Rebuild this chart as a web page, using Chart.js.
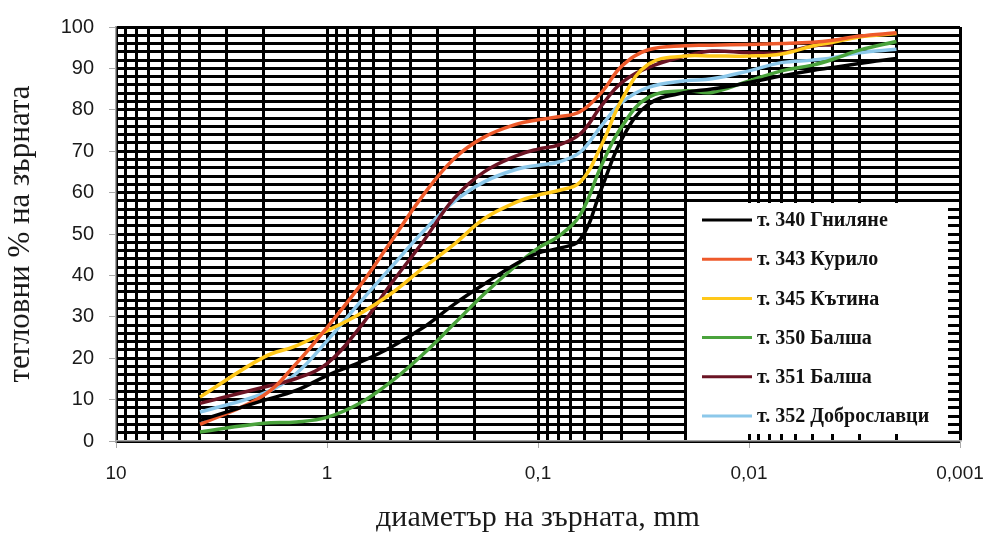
<!DOCTYPE html>
<html>
<head>
<meta charset="utf-8">
<script src="https://cdn.jsdelivr.net/npm/chart.js@4.4.1/dist/chart.umd.min.js"></script>
<style>
  html, body { margin: 0; padding: 0; background: #fff; }
  #wrap { width: 990px; height: 536px; }
</style>
</head>
<body>
<div id="wrap"><canvas id="grainChart" width="990" height="536"></canvas></div>
<script>
// sieve / hydrometer diameters, mm
const diameters = [4, 2, 1.4, 1, 0.7, 0.5, 0.35, 0.25, 0.18, 0.125, 0.1, 0.08, 0.063, 0.05, 0.04, 0.03, 0.02, 0.015, 0.01, 0.007, 0.005, 0.004, 0.003, 0.002];

const gnilyane340 = [5, 9.8, 12.2, 15.8, 19, 22.6, 27.4, 33, 37.9, 43, 45.4, 46.5, 48.7, 61, 73, 81.3, 84.2, 85, 86.6, 88.2, 89.5, 90.2, 91.2, 92.4];
const kurilo343 = [4, 11, 18.7, 27.4, 37.4, 48, 59.4, 68.2, 73.4, 76.6, 77.6, 78.3, 79.6, 84.2, 90.6, 94.5, 95.5, 95.6, 95.8, 96, 96.3, 96.8, 97.8, 98.6];
const katina345 = [10.6, 20.2, 23, 26.6, 30.7, 35.5, 41.8, 47.5, 53.7, 57.8, 59.4, 60.5, 62.6, 71.5, 82.5, 91, 93, 93, 93, 93.5, 95.4, 96.3, 97.6, 98.4];
const balsha350 = [2.2, 4.3, 4.6, 5.7, 9.1, 14.2, 21, 28.3, 35.5, 42.7, 46.6, 49.4, 54.7, 66.6, 76, 83, 84.6, 84.2, 87, 89.4, 90.8, 92.2, 94.4, 96.5];
const balsha351 = [9.1, 13, 15.1, 18.7, 27.4, 37.8, 48.2, 58.6, 65, 69, 70.5, 71.5, 74.2, 81, 86.6, 90.2, 93, 94.2, 93.8, 93.8, 95.4, 95.7, null, null];
const dobroslavtsi352 = [7, 11.5, 16.3, 24.2, 33.4, 41.8, 50.6, 57.8, 62.6, 65.7, 66.6, 67.4, 69.8, 76.2, 81.8, 85.4, 87, 87.5, 89.4, 91.4, 92, 92.6, 93.8, 94.6];

const seriesNames = ['т. 340 Гниляне', 'т. 343 Курило', 'т. 345 Кътина', 'т. 350 Балша', 'т. 351 Балша', 'т. 352 Доброславци'];
const seriesColors = ['#000000', '#ee5a2b', '#ffc81a', '#4aa33c', '#6b1424', '#8cc8ea'];

const xTickValues = [10, 1, 0.1, 0.01, 0.001];
const xTickLabels = ['10', '1', '0,1', '0,01', '0,001'];

function majorIndex(v) {
    return xTickValues.findIndex(t => Math.abs(v / t - 1) < 1e-6);
}

// legend sitting inside the plot on a white box
const boxLegend = {
    id: 'boxLegend',
    afterDatasetsDraw(chart) {
        const ctx = chart.ctx;
        const a = chart.chartArea;
        const x0 = a.left + 571, y0 = a.top + 176, w = 261, h = 231;
        ctx.save();
        ctx.fillStyle = '#fff';
        ctx.fillRect(x0, y0, w, h);
        ctx.font = 'bold 20px "Liberation Serif", "Times New Roman", serif';
        ctx.textBaseline = 'middle';
        chart.data.datasets.forEach((ds, i) => {
            const y = y0 + 17 + i * 39.2;
            ctx.strokeStyle = ds.borderColor;
            ctx.lineWidth = 3;
            ctx.beginPath();
            ctx.moveTo(x0 + 15, y);
            ctx.lineTo(x0 + 65, y);
            ctx.stroke();
            ctx.fillStyle = '#111';
            ctx.fillText(ds.label, x0 + 70, y + 1);
        });
        ctx.restore();
    }
};

const sets = [gnilyane340, kurilo343, katina345, balsha350, balsha351, dobroslavtsi352];

new Chart(document.getElementById('grainChart'), {
    type: 'line',
    data: {
        labels: diameters,
        datasets: sets.map((d, i) => ({
            label: seriesNames[i],
            data: d,
            borderColor: seriesColors[i],
            backgroundColor: seriesColors[i],
            borderWidth: 3.5,
            pointRadius: 0,
            tension: 0.4,
            fill: false
        }))
    },
    options: {
        responsive: false,
        animation: false,
        layout: { padding: { top: 24, right: 30, left: 0, bottom: 0 } },
        plugins: {
            legend: { display: false },
            tooltip: { enabled: false }
        },
        scales: {
            x: {
                type: 'logarithmic',
                reverse: true,
                min: 0.001,
                max: 10,
                afterBuildTicks(scale) {
                    const ticks = [];
                    for (let e = -3; e <= 0; e++) {
                        for (let m = 1; m <= 9; m++) {
                            ticks.push({ value: +(m * Math.pow(10, e)).toPrecision(6) });
                        }
                    }
                    ticks.push({ value: 10 });
                    scale.ticks = ticks;
                },
                afterFit(scale) { scale.height = 95; },
                grid: {
                    color: '#000',
                    lineWidth: 3,
                    drawTicks: true,
                    tickLength: 7,
                    tickWidth: 1,
                    tickColor: c => (c.tick && majorIndex(c.tick.value) >= 0) ? '#aaa' : 'rgba(0,0,0,0)'
                },
                border: { color: '#a6a6a6', width: 1.5 },
                ticks: {
                    autoSkip: false,
                    maxRotation: 0,
                    padding: 14,
                    color: '#1a1a1a',
                    font: { family: '"Liberation Sans", Arial, sans-serif', size: 19 },
                    callback(v) {
                        const i = majorIndex(v);
                        return i >= 0 ? xTickLabels[i] : '';
                    }
                },
                title: {
                    display: true,
                    text: 'диаметър на зърната, mm',
                    color: '#1a1a1a',
                    font: { family: '"Liberation Serif", "Times New Roman", serif', size: 30 },
                    padding: { top: 0, bottom: 0 }
                }
            },
            y: {
                min: 0,
                max: 100,
                afterFit(scale) { scale.width = 116; },
                grid: {
                    color: '#000',
                    lineWidth: 3,
                    drawTicks: true,
                    tickLength: 7,
                    tickWidth: 1,
                    tickColor: c => (c.tick && c.tick.value % 10 === 0) ? '#aaa' : 'rgba(0,0,0,0)'
                },
                border: { color: '#a6a6a6', width: 1.5 },
                ticks: {
                    stepSize: 2,
                    autoSkip: false,
                    padding: 15,
                    color: '#1a1a1a',
                    font: { family: '"Liberation Sans", Arial, sans-serif', size: 20 },
                    callback: v => (v % 10 === 0 ? v : '')
                },
                title: {
                    display: true,
                    text: 'тегловни % на зърната',
                    color: '#1a1a1a',
                    font: { family: '"Liberation Serif", "Times New Roman", serif', size: 31 },
                    padding: { top: 2, bottom: 0 }
                }
            }
        }
    },
    plugins: [boxLegend]
});
</script>
</body>
</html>
